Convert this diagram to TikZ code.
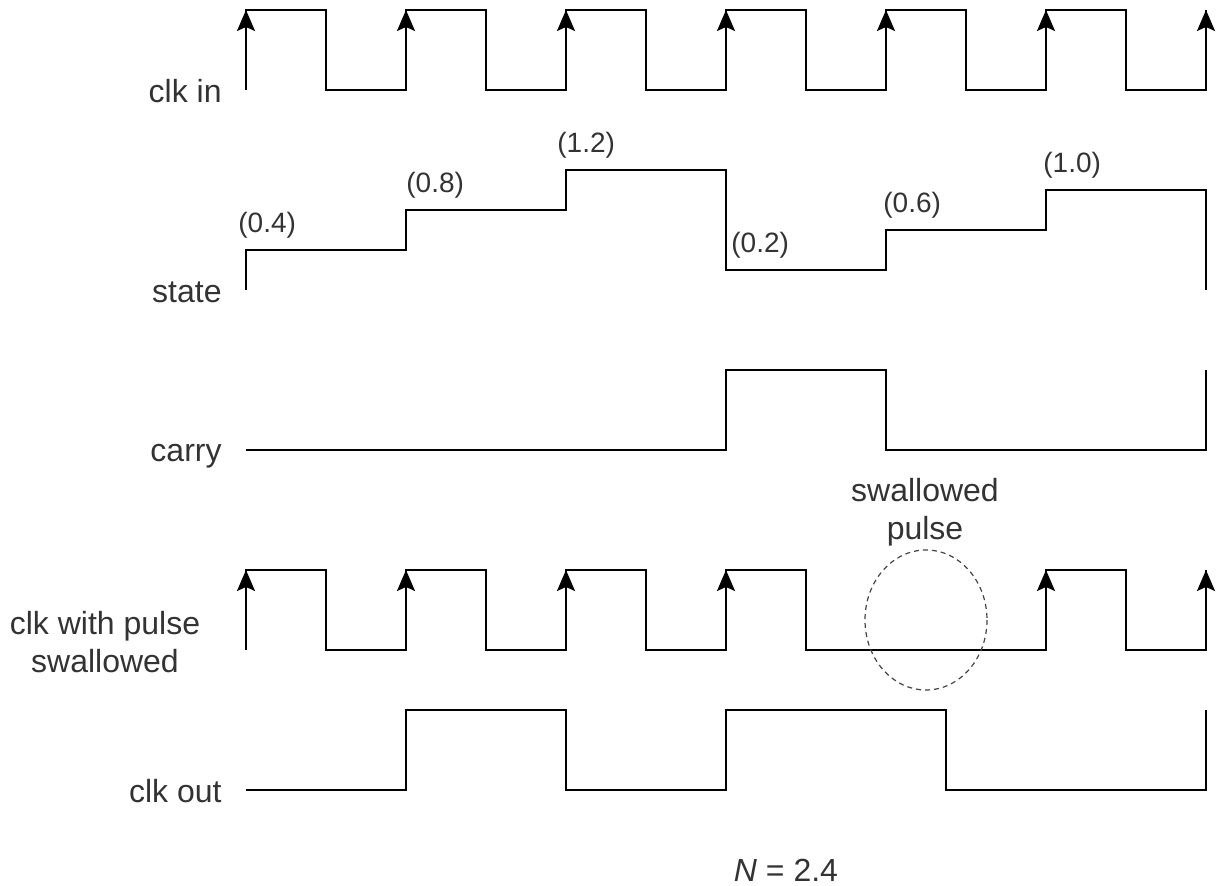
\documentclass[tikz,border=0pt]{standalone}
\usepackage{fontspec}
\setmainfont{Liberation Sans}
\usetikzlibrary{arrows.meta}
\definecolor{wavestroke}{HTML}{000000}
\definecolor{lbltext}{HTML}{333333}
\definecolor{markstroke}{HTML}{444444}

\begin{document}
\begin{tikzpicture}[
    x=0.5pt, y=-0.5pt,
    lbl/.style={font=\fontsize{16}{19}\selectfont, text=lbltext, inner sep=0pt},
    sig/.style={lbl, anchor=base east},
    val/.style={font=\fontsize{14}{17}\selectfont, text=lbltext, inner sep=0pt, anchor=base west},
    wave/.style={line width=1pt, draw=wavestroke, line join=miter},
    rise/.style={wave, arrows={-Stealth[length=10.5pt,width=9pt,inset=2pt]}},
    swallow/.style={draw=markstroke, line width=0.6pt, dash pattern=on 2.5pt off 2pt},
]
\useasboundingbox (0,0) rectangle (1217,886);

% ---- clk in -------------------------------------------------------------------
\node[sig] (lclkin) at (222,103) {clk in};
\draw[wave] (246,90) |- (326,10) |- (406,90) |- (486,10) |- (566,90) |- (646,10)
    |- (726,90) |- (806,10) |- (886,90) |- (966,10) |- (1046,90) |- (1126,10)
    |- (1206,90) -- (1206,10);
\draw[rise] (246,90) -- (246,10);
\draw[rise] (406,90) -- (406,10);
\draw[rise] (566,90) -- (566,10);
\draw[rise] (726,90) -- (726,10);
\draw[rise] (886,90) -- (886,10);
\draw[rise] (1046,90) -- (1046,10);
\draw[rise] (1206,90) -- (1206,10);

% ---- state (accumulator) ------------------------------------------------------
\node[sig] (lstate) at (222,303) {state};
\draw[wave] (246,290) |- (406,250) |- (566,210) |- (726,170) |- (886,270)
    |- (1046,230) |- (1206,190) -- (1206,290);
\node[val] (v1) at (238,233)  {(0.4)};
\node[val] (v2) at (406,193)  {(0.8)};
\node[val] (v3) at (557,153)  {(1.2)};
\node[val] (v4) at (731,253)  {(0.2)};
\node[val] (v5) at (883,213)  {(0.6)};
\node[val] (v6) at (1043,173) {(1.0)};

% ---- carry --------------------------------------------------------------------
\node[sig] (lcarry) at (222,462) {carry};
\draw[wave] (246,450) -| (726,370) -| (886,450) -| (1206,370);

% ---- clk with pulse swallowed -------------------------------------------------
\node[lbl, align=center] (lswal) at (105,642) {clk with pulse\\swallowed};
\draw[wave] (246,650) |- (326,570) |- (406,650) |- (486,570) |- (566,650) |- (646,570)
    |- (726,650) |- (806,570) |- (1046,650) |- (1126,570) |- (1206,650) -- (1206,570);
\draw[rise] (246,650) -- (246,570);
\draw[rise] (406,650) -- (406,570);
\draw[rise] (566,650) -- (566,570);
\draw[rise] (726,650) -- (726,570);
\draw[rise] (1046,650) -- (1046,570);
\draw[rise] (1206,650) -- (1206,570);

\draw[swallow] (926,620) ellipse [x radius=61, y radius=70];
\node[lbl, align=center] (lgone) at (925,512) {swallowed\\pulse};

% ---- clk out ------------------------------------------------------------------
\node[sig] (lclkout) at (222,803) {clk out};
\draw[wave] (246,790) -| (406,710) -| (566,790) -| (726,710) -| (946,790) -| (1206,710);

\node[lbl, anchor=base] (ratio) at (786,882) {\textit{N} = 2.4};

\end{tikzpicture}
\end{document}
